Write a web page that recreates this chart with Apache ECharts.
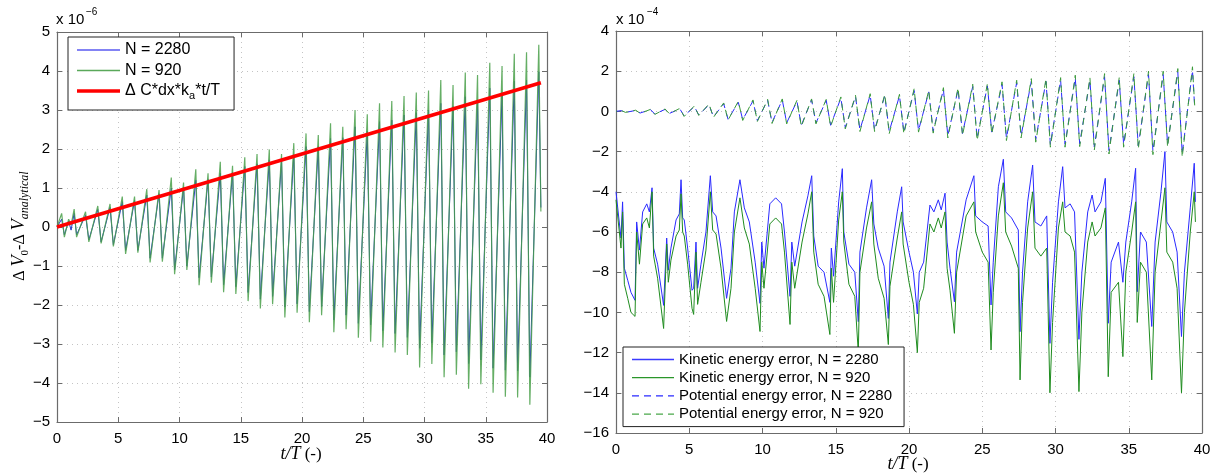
<!DOCTYPE html>
<html><head><meta charset="utf-8">
<script src="https://cdn.jsdelivr.net/npm/echarts@6/dist/echarts.min.js"></script>
<style>html,body{margin:0;padding:0;background:#fff}#c{width:1216px;height:476px}</style>
</head><body><div id="c"></div>
<script>
// ---------- LEFT PANEL DATA (units of 1e-6) ----------
const tL = [0,0.38,0.6,0.95,1.15,1.4,1.6,
 2.33,2.6,3.33,3.6,4.33,4.6,5.33,5.6,6.33,6.6,7.33,7.6,8.33,8.6,9.33,9.6,
 10.33,10.6,11.33,11.6,12.33,12.6,13.33,13.6,14.33,14.6,15.33,15.6,16.33,16.6,17.33,17.6,18.33,18.6,19.33,19.6,
 20.33,20.6,21.33,21.6,22.33,22.6,23.33,23.6,24.33,24.6,25.33,25.6,26.33,26.6,27.33,27.6,28.33,28.6,29.33,29.6,
 30.33,30.6,31.33,31.6,32.33,32.6,33.33,33.6,34.33,34.6,35.33,35.6,36.33,36.6,37.33,37.6,38.33,38.6,39.33,39.5];
const n920L = [0,0.35,-0.26,0.2,0.05,0.46,-0.26,
 0.39,-0.38,0.54,-0.42,0.59,-0.50,0.78,-0.69,0.78,-0.66,0.97,-0.91,0.95,-0.89,1.27,-1.21,
 1.14,-1.10,1.48,-1.49,1.38,-1.43,1.67,-1.67,1.57,-1.72,1.79,-1.90,1.87,-2.09,1.99,-1.98,1.87,-2.32,2.15,-2.20,
 2.40,-2.44,2.36,-2.26,2.66,-2.70,2.57,-2.62,3.0,-2.84,2.89,-2.94,3.17,-3.09,3.23,-3.22,3.36,-3.28,3.45,-3.60,
 3.50,-3.51,3.77,-3.85,3.64,-3.79,3.96,-4.15,3.90,-4.03,4.21,-4.25,4.13,-4.35,4.44,-4.37,4.48,-4.56,4.67,0.4];
const n2280L = [0,0.2,-0.2,0.15,-0.08,0.35,-0.2,
 0.3,-0.33,0.45,-0.38,0.5,-0.45,0.65,-0.6,0.68,-0.6,0.82,-0.8,0.85,-0.8,1.0,-1.1,
 1.02,-1.0,1.2,-1.3,1.22,-1.28,1.38,-1.48,1.4,-1.53,1.55,-1.68,1.62,-1.85,1.72,-1.78,1.7,-2.05,1.85,-1.97,
 2.06,-2.17,2.06,-2.04,2.27,-2.38,2.29,-2.26,2.57,-2.47,2.46,-2.51,2.70,-2.66,2.74,-2.73,2.87,-2.83,2.93,-3.11,
 3.0,-2.98,3.17,-3.28,3.09,-3.20,3.34,-3.50,3.26,-3.41,3.56,-3.62,3.40,-3.67,3.74,-3.69,3.77,-3.85,3.98,0.5];
const trendT = [0, 39.5];
const trendV = [0, 3.7];

// ---------- RIGHT PANEL DATA (units of 1e-4) ----------
const tK = [0,0.34,0.45,0.57,0.8,1.02,1.3,1.41,1.6,1.82,
 2.1,2.28,2.46,2.57,2.84,3.25,3.46,3.57,3.75,4.1,
 4.32,4.44,4.55,4.66,4.89,5.19,5.3,5.46,5.57,5.8,
 6.14,6.44,6.6,6.83,7.17,7.55,7.85,8.08,8.46,8.76,
 9.1,9.5,9.83,9.95,10.1,10.5,10.9,11.3,11.5,11.88,
 12.0,12.2,12.7,13.1,13.36,13.5,13.8,14.2,14.6,14.7,
 14.85,15.2,15.45,15.55,15.9,16.3,16.54,16.65,17.1,17.45,
 17.6,17.9,18.3,18.59,18.7,19.2,19.5,19.6,20.0,20.3,
 20.57,20.7,21.0,21.43,21.7,22.0,22.2,22.46,22.6,22.8,
 23.1,23.25,23.9,24.43,24.55,25.0,25.4,25.6,25.75,26.1,
 26.44,26.6,27.0,27.46,27.58,27.75,28.1,28.44,28.6,29.0,
 29.4,29.62,29.8,30.2,30.49,30.65,31.0,31.3,31.6,31.8,
 32.2,32.5,32.7,33.1,33.4,33.6,33.8,34.3,34.6,34.8,
 35.2,35.47,35.58,35.8,36.2,36.57,36.8,37.2,37.47,37.6,
 38.0,38.3,38.6,38.8,39.2,39.47,39.55];
const kin2280 = [-4.0,-6.3,-4.5,-7.8,-8.4,-9.0,-9.4,-5.5,-6.9,-5.0,
 -4.6,-5.0,-3.8,-6.8,-7.6,-9.65,-6.3,-7.9,-6.8,-5.4,
 -5.1,-3.4,-5.3,-5.4,-6.8,-8.9,-8.8,-6.5,-8.8,-7.6,
 -6.0,-3.2,-5.0,-5.2,-6.8,-9.3,-7.8,-5.0,-3.4,-4.8,
 -5.5,-7.5,-9.55,-6.5,-7.8,-4.6,-4.3,-4.6,-6.0,-9.2,
 -6.5,-7.7,-5.5,-4.2,-3.2,-6.2,-7.7,-8.0,-9.5,-6.8,
 -8.2,-4.5,-2.85,-6.0,-7.6,-8.0,-10.46,-7.0,-4.8,-3.4,
 -5.6,-6.8,-7.7,-10.3,-7.5,-5.0,-3.75,-5.5,-7.0,-8.0,
 -10.08,-8.0,-7.5,-4.66,-5.0,-4.4,-4.9,-4.07,-6.5,-7.8,
 -9.47,-7.0,-4.4,-3.2,-5.2,-5.5,-5.7,-9.63,-7.5,-3.75,
 -2.38,-5.0,-5.3,-5.9,-10.96,-8.0,-4.5,-2.67,-5.5,-5.7,
 -5.2,-11.54,-8.5,-4.5,-2.75,-4.8,-4.6,-5.0,-11.34,-8.0,
 -5.0,-4.16,-5.0,-4.5,-3.33,-10.54,-7.5,-6.5,-8.5,-6.5,
 -4.5,-2.83,-8.97,-6.0,-6.5,-10.7,-6.5,-4.0,-2.0,-5.5,
 -6.0,-7.0,-11.2,-8.0,-4.8,-2.58,-4.5];
const kin920 = [-4.4,-6.8,-5.0,-8.6,-9.3,-10.0,-10.2,-6.0,-7.6,-5.6,
 -5.3,-5.8,-4.0,-7.2,-8.3,-10.8,-6.6,-8.5,-7.4,-6.2,
 -5.9,-4.1,-6.0,-6.2,-7.6,-9.8,-10.1,-7.0,-9.6,-8.5,
 -6.9,-4.0,-5.9,-6.1,-7.8,-10.45,-8.8,-6.0,-4.3,-5.8,
 -6.6,-8.8,-10.95,-7.5,-8.8,-5.6,-5.3,-5.6,-7.0,-10.6,
 -7.5,-8.8,-6.5,-5.1,-4.0,-7.0,-8.6,-9.2,-11.1,-7.8,
 -9.5,-5.4,-4.0,-6.5,-8.6,-9.2,-12.0,-8.0,-5.8,-4.5,
 -6.6,-8.3,-9.3,-11.6,-8.7,-6.3,-5.0,-6.6,-8.5,-9.6,
 -12.0,-9.5,-8.8,-5.6,-6.0,-5.3,-5.8,-5.0,-7.8,-8.9,
 -11.04,-8.0,-5.2,-4.5,-6.0,-7.0,-7.5,-11.87,-9.0,-5.2,
 -3.55,-6.0,-6.7,-7.8,-13.36,-9.5,-5.8,-4.0,-6.8,-7.2,
 -6.8,-14.0,-10.5,-5.8,-4.5,-6.0,-6.2,-7.0,-13.94,-10.0,
 -6.5,-5.5,-6.2,-5.8,-4.8,-13.2,-9.0,-8.5,-12.2,-8.0,
 -6.0,-4.5,-10.5,-7.5,-8.0,-13.36,-8.0,-5.5,-3.8,-7.0,
 -7.5,-8.8,-14.0,-10.0,-6.0,-4.0,-5.5];
const tP = [0,0.35,0.65,1.35,1.65,2.35,2.65,3.35,3.65,4.35,4.65,5.35,5.65,6.35,6.65,7.35,7.65,8.35,8.65,9.35,9.65,
 10.35,10.65,11.35,11.65,12.35,12.65,13.35,13.65,14.35,14.65,15.35,15.65,16.35,16.65,17.35,17.65,18.35,18.65,19.35,19.65,
 20.35,20.65,21.35,21.65,22.35,22.65,23.35,23.65,24.35,24.65,25.35,25.65,26.35,26.65,27.35,27.65,28.35,28.65,29.35,29.65,
 30.35,30.65,31.35,31.65,32.35,32.65,33.35,33.65,34.35,34.65,35.35,35.65,36.35,36.65,37.35,37.65,38.35,38.65,39.35,39.5];
const pot2280 = [0,0.04,-0.05,0.05,-0.08,0.09,-0.13,0.1,-0.1,0.13,-0.22,0.24,-0.18,0.33,-0.27,0.38,-0.39,0.45,-0.41,0.52,-0.46,
 0.55,-0.55,0.57,-0.57,0.5,-0.69,0.57,-0.57,0.55,-0.69,0.66,-0.8,0.74,-0.92,0.81,-0.92,0.78,-1.0,0.78,-1.03,
 1.04,-0.95,0.97,-0.99,1.09,-1.21,1.09,-1.1,1.24,-1.33,1.27,-1.03,1.35,-1.33,1.43,-1.21,1.5,-1.41,1.5,-1.64,
 1.55,-1.64,1.66,-1.61,1.55,-1.77,1.73,-1.95,1.55,-1.64,1.73,-1.72,1.84,-1.98,1.84,-1.64,1.96,-2.1,2.04,0.2];
const pot920 = [0,0.05,-0.05,0.06,-0.1,0.1,-0.15,0.12,-0.12,0.15,-0.25,0.27,-0.2,0.37,-0.3,0.42,-0.43,0.5,-0.45,0.57,-0.5,
 0.6,-0.6,0.62,-0.62,0.55,-0.75,0.62,-0.62,0.6,-0.75,0.72,-0.87,0.8,-1.0,0.88,-1.0,0.85,-1.1,0.85,-1.12,
 1.13,-1.03,1.05,-1.08,1.18,-1.32,1.18,-1.2,1.35,-1.45,1.38,-1.12,1.47,-1.45,1.55,-1.32,1.63,-1.53,1.63,-1.78,
 1.68,-1.78,1.8,-1.75,1.68,-1.92,1.88,-2.12,1.68,-1.78,1.88,-1.87,2.0,-2.15,2.0,-1.78,2.13,-2.28,2.22,0.3];

// axis ranges / ticks
const xRange = {min: 0, max: 40, interval: 5};
const yLeft = {min: -5, max: 5, interval: 1};
const yRight = {min: -16, max: 4, interval: 2};

const SANS = '"Liberation Sans", Arial, Helvetica, sans-serif';
const SERIF = '"Liberation Serif", "DejaVu Serif", serif';
const zip = (t, v) => t.map((x, i) => [x, v[i]]);
const minus = v => (v < 0 ? '\u2212' + Math.abs(v) : String(v));

const BOX = '#6b6b6b';
const GRIDC = '#c4c4c4';
function xAx(gi, top) {
  return Object.assign({type: 'value', gridIndex: gi, position: top ? 'top' : 'bottom'}, xRange, {
    axisLine: {show: true, onZero: false, lineStyle: {color: BOX, width: 1.2}},
    axisTick: {show: true, inside: true, length: 5, lineStyle: {color: BOX}},
    axisLabel: {show: !top, margin: 9, color: '#000', fontSize: 15, fontFamily: SANS},
    splitLine: {show: !top, lineStyle: {color: GRIDC, type: [1, 4], width: 1}}
  });
}
function yAx(gi, range, right) {
  return Object.assign({type: 'value', gridIndex: gi, position: right ? 'right' : 'left'}, range, {
    axisLine: {show: true, onZero: false, lineStyle: {color: BOX, width: 1.2}},
    axisTick: {show: true, inside: true, length: 5, lineStyle: {color: BOX}},
    axisLabel: {show: !right, margin: 7, color: '#000', fontSize: 15, fontFamily: SANS, formatter: minus},
    splitLine: {show: !right, lineStyle: {color: GRIDC, type: [1, 4], width: 1}}
  });
}

// text layout helper (measures with canvas, places tokens)
const mctx = document.createElement('canvas').getContext('2d');
function tw(font, s) { mctx.font = font; return mctx.measureText(s).width; }
function richText(tokens, x, y, rot) {
  const W = tokens.reduce((a, t) => a + tw(t.font, t.text), 0);
  let cx = -W / 2;
  const children = tokens.map(t => {
    const el = {type: 'text', x: cx, y: (t.dy || 0) - 0.3 * t.size,
      style: {text: t.text, font: t.font, fill: '#000', textAlign: 'left', textVerticalAlign: 'middle', align: 'left', verticalAlign: 'middle'}};
    cx += tw(t.font, t.text);
    return el;
  });
  return {type: 'group', x: x, y: y, rotation: rot || 0, children: children};
}
function tok(text, size, family, italic, dy) {
  return {text: text, size: size, dy: dy || 0, font: (italic ? 'italic ' : '') + size + 'px ' + family};
}
function plainText(text, x, baseline, size, family) {
  return {type: 'text', x: x, y: baseline - 0.3 * size,
    style: {text: text, font: size + 'px ' + family, fill: '#000', textAlign: 'left', textVerticalAlign: 'middle', align: 'left', verticalAlign: 'middle'}};
}

// legend icons (line swatches)
const ICON_SOLID = 'path://M0,0H43V1.3H0Z';
const ICON_THICK = 'path://M0,0H43V3.6H0Z';
const ICON_DASH = 'path://M0,0H7V1.3H0Z M12,0H19V1.3H12Z M24,0H31V1.3H24Z M36,0H42V1.3H36Z';

const NAME_TREND = '\u0394 C*dx*k_a*t/T';
const chart = echarts.init(document.getElementById('c'), null, {renderer: 'canvas'});
chart.setOption({
  animation: false,
  backgroundColor: '#fff',
  grid: [
    {left: 57, top: 32, width: 490, height: 390},
    {left: 616, top: 31, width: 586, height: 402}
  ],
  xAxis: [xAx(0, false), xAx(0, true), xAx(1, false), xAx(1, true)],
  yAxis: [yAx(0, yLeft, false), yAx(0, yLeft, true), yAx(1, yRight, false), yAx(1, yRight, true)],
  legend: [
    {orient: 'vertical', left: 68, top: 37, itemWidth: 43, itemHeight: 12, itemGap: 4.5,
     padding: [5, 14, 9, 9], borderColor: '#222', borderWidth: 1, backgroundColor: '#fff',
     itemStyle: {borderWidth: 0},
     data: [{name: 'N = 2280', icon: ICON_SOLID}, {name: 'N = 920', icon: ICON_SOLID}, {name: NAME_TREND, icon: ICON_THICK}],
     formatter: n => n === NAME_TREND ? '{n|\u0394 C*dx*k}{s|a}{n|*t/T}' : n,
     textStyle: {fontSize: 16, fontFamily: SANS, color: '#000',
       rich: {n: {fontSize: 16, fontFamily: SANS}, s: {fontSize: 11, fontFamily: SANS, padding: [9, 0, 0, 0]}}}},
    {orient: 'vertical', left: 623, top: 347, itemWidth: 42, itemHeight: 12, itemGap: 3.2,
     padding: [5, 12, 5, 9], borderColor: '#222', borderWidth: 1, backgroundColor: '#fff',
     itemStyle: {borderWidth: 0},
     data: [{name: 'Kinetic energy error, N = 2280', icon: ICON_SOLID}, {name: 'Kinetic energy error, N = 920', icon: ICON_SOLID},
            {name: 'Potential energy error, N = 2280', icon: ICON_DASH}, {name: 'Potential energy error, N = 920', icon: ICON_DASH}],
     textStyle: {fontSize: 15, fontFamily: SANS, color: '#000'}}
  ],
  series: [
    {name: 'N = 2280', type: 'line', xAxisIndex: 0, yAxisIndex: 0, data: zip(tL, n2280L), symbol: 'none',
     lineStyle: {color: '#2336c8', width: 1}, itemStyle: {color: '#5a5af0'}, z: 2},
    {name: 'N = 920', type: 'line', xAxisIndex: 0, yAxisIndex: 0, data: zip(tL, n920L), symbol: 'none',
     lineStyle: {color: '#4aa04a', width: 1.2, opacity: 0.85}, itemStyle: {color: '#5aa85a'}, z: 3},
    {name: NAME_TREND, type: 'line', xAxisIndex: 0, yAxisIndex: 0, data: zip(trendT, trendV), symbol: 'none',
     lineStyle: {color: '#ff0000', width: 3.5}, itemStyle: {color: '#ff0000'}, z: 4},
    {name: 'Kinetic energy error, N = 2280', type: 'line', xAxisIndex: 2, yAxisIndex: 2, data: zip(tK, kin2280), symbol: 'none',
     lineStyle: {color: '#2a2aff', width: 1}, itemStyle: {color: '#3a3aff'}, z: 2},
    {name: 'Kinetic energy error, N = 920', type: 'line', xAxisIndex: 2, yAxisIndex: 2, data: zip(tK, kin920), symbol: 'none',
     lineStyle: {color: '#1f8c1f', width: 1}, itemStyle: {color: '#2a962a'}, z: 3},
    {name: 'Potential energy error, N = 2280', type: 'line', xAxisIndex: 2, yAxisIndex: 2, data: zip(tP, pot2280), symbol: 'none',
     lineStyle: {color: '#2a2aff', width: 1, type: [7, 5]}, itemStyle: {color: '#2a2aff'}, z: 2},
    {name: 'Potential energy error, N = 920', type: 'line', xAxisIndex: 2, yAxisIndex: 2, data: zip(tP, pot920), symbol: 'none',
     lineStyle: {color: '#3a9a3a', width: 1, type: [7, 5], dashOffset: 6}, itemStyle: {color: '#4aa84a'}, z: 3}
  ],
  graphic: [
    plainText('x 10', 56, 24, 15, SANS),
    plainText('\u22126', 86, 15, 10, SANS),
    plainText('x 10', 616, 24, 15, SANS),
    plainText('\u22124', 647, 15, 10, SANS),
    richText([tok('\u0394 ', 16, SERIF), tok('V', 18, SERIF, true), tok('0', 11, SERIF, false, 3),
              tok('-\u0394 ', 16, SERIF), tok('V', 18, SERIF, true), tok('analytical', 12, SERIF, true, 3)], 25, 226, Math.PI / 2),
    richText([tok('t/T', 18, SERIF, true), tok(' (-)', 17, SERIF)], 301, 460, 0),
    richText([tok('t/T', 18, SERIF, true), tok(' (-)', 17, SERIF)], 908, 470, 0)
  ]
});
</script></body></html>
